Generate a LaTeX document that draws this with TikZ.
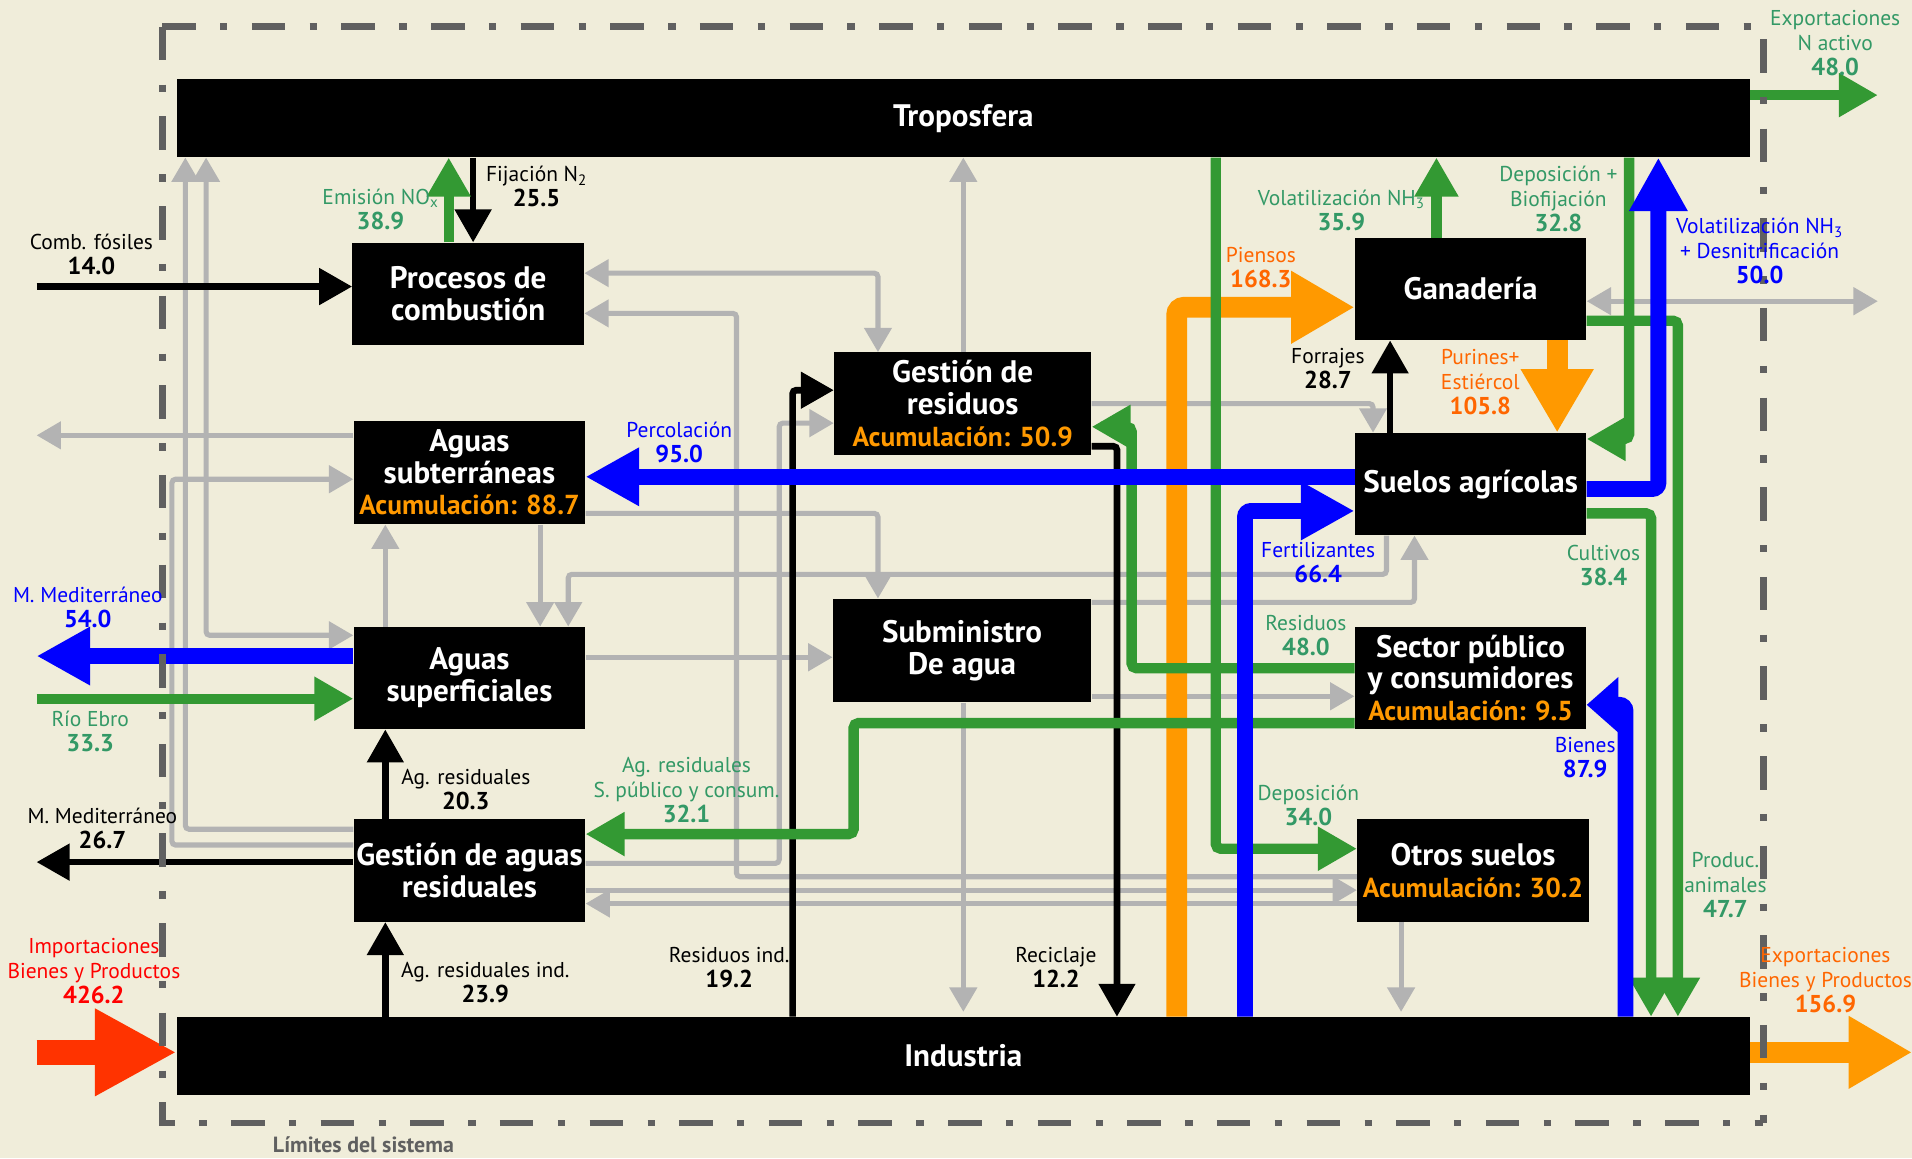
\documentclass[tikz,border=0pt]{standalone}
\usepackage{fontspec}
\setmainfont{PT Sans}
\usepackage{tikz}
\usetikzlibrary{arrows.meta}

\definecolor{cfondo}{RGB}{240,237,218}
\definecolor{cborde}{RGB}{96,96,96}
\definecolor{cgris}{RGB}{179,179,179}
\definecolor{cverde}{RGB}{51,153,51}
\definecolor{cverdet}{RGB}{51,153,102}
\definecolor{cazul}{RGB}{0,0,255}
\definecolor{cnaranja}{RGB}{255,153,0}
\definecolor{cnaranjat}{RGB}{255,102,0}
\definecolor{crojo}{RGB}{255,51,0}
\definecolor{crojot}{RGB}{255,0,0}
\newcommand{\acumul}[1]{{\fontsize{22.5}{26}\selectfont\textcolor{cnaranja}{Acumulación: #1}}}
\newcommand{\valor}[1]{{\fontsize{20}{20.5}\selectfont\bfseries #1}}

\begin{document}
\begin{tikzpicture}[x=1pt, y=-1pt,
  caja/.style={fill=black, text=white, inner sep=0pt, align=center, font=\fontsize{25.5}{26}\selectfont\bfseries},
  etq/.style={inner sep=0pt, align=center, font=\fontsize{17.6}{20.5}\selectfont},
  lgris/.style={draw=cgris, line width=4.2pt, rounded corners=3pt, -{Triangle[length=20pt,width=22pt]}},
  lgrisd/.style={lgris, {Triangle[length=20pt,width=22pt]}-{Triangle[length=20pt,width=22pt]}},
  lnegro/.style={draw=black, line width=5.5pt, rounded corners=3pt, -{Triangle[length=27pt,width=29pt]}},
  lverde/.style={draw=cverde, line width=8.5pt, rounded corners=4pt, -{Triangle[length=32pt,width=34pt]}},
  lazul/.style={draw=cazul, line width=13pt, rounded corners=5pt, -{Triangle[length=44pt,width=45pt]}},
  lnaranja/.style={draw=cnaranja, line width=17pt, rounded corners=6pt, -{Triangle[length=52pt,width=56pt]}},
  lrojo/.style={draw=crojo, line width=21pt, -{Triangle[length=67pt,width=67pt]}},
  limite/.style={draw=cborde, line width=5.5pt, dash pattern=on 27.5pt off 20pt on 6pt off 20pt}]

\fill[cfondo] (0,0) rectangle (1568,950);
\useasboundingbox (0,0) rectangle (1568,950);

\node[caja, minimum width=1290pt, minimum height=64pt] (tropo) at (790,97) {Troposfera};
\node[caja, minimum width=190pt, minimum height=84pt] (comb) at (384,241) {Procesos de\\combustión};
\node[caja, minimum width=211pt, minimum height=84pt] (resid) at (789.5,331) {Gestión de\\residuos\\\acumul{50.9}};
\node[caja, minimum width=190pt, minimum height=85pt] (subt) at (385,387.5) {Aguas\\subterráneas\\\acumul{88.7}};
\node[caja, minimum width=190pt, minimum height=84pt] (superf) at (385,556) {Aguas\\superficiales};
\node[caja, minimum width=190pt, minimum height=84pt] (gar) at (385,714) {Gestión de aguas\\residuales};
\node[caja, minimum width=212pt, minimum height=85pt] (sumin) at (789,533.5) {Subministro\\De agua};
\node[caja, minimum width=190pt, minimum height=84pt] (ganad) at (1206,237) {Ganadería};
\node[caja, minimum width=190pt, minimum height=84pt] (suelos) at (1206,397) {Suelos agrícolas};
\node[caja, minimum width=190pt, minimum height=84pt] (sector) at (1206,556) {Sector público\\y consumidores\\\acumul{9.5}};
\node[caja, minimum width=190pt, minimum height=84pt] (otros) at (1208,714) {Otros suelos\\\acumul{30.2}};
\node[caja, minimum width=1290pt, minimum height=64pt] (indus) at (790,866) {Industria};

\coordinate (ecomb) at (30,235);
\coordinate (eexpn) at (1540,78);
\coordinate (eganad) at (1540,247);
\coordinate (esubt) at (30,357);
\coordinate (emedb) at (30,538);
\coordinate (eebro) at (30,573);
\coordinate (emedk) at (30,707);
\coordinate (eimp) at (30,863);
\coordinate (eexpb) at (1568,863);

\draw[lgris] (gar.west |- 0,680) -| (152,0 |- tropo.south);
\draw[lgrisd] (superf.west |- 0,521) -| (169,0 |- tropo.south);
\draw[lgris] (gar.west |- 0,693) -| (141,393) -- (subt.west |- 0,393);
\draw[lgris] (subt.west |- esubt) -- (esubt);
\draw[lgris] (316,0 |- superf.north) -- (316,0 |- subt.south);
\draw[lgris] (443,0 |- subt.south) -- (443,0 |- superf.north);
\draw[lgris] (1137,0 |- suelos.south) |- (466,471) -- (466,0 |- superf.north);
\draw[lgrisd] (comb.east |- 0,224) -| (720,0 |- resid.north);
\draw[lgris] (otros.west |- 0,719) -| (604,257) -- (comb.east |- 0,257);
\draw[lgris] (gar.east |- 0,708) -| (639,347) -- (resid.west |- 0,347);
\draw[lgris] (790,0 |- resid.north) -- (790,0 |- tropo.south);
\draw[lgris] (resid.east |- 0,331) -| (1126,0 |- suelos.north);
\draw[lgris] (subt.east |- 0,421) -| (720,0 |- sumin.north);
\draw[lgris] (sumin.east |- 0,494) -| (1160,0 |- suelos.south);
\draw[lgris] (superf.east |- 0,539) -- (sumin.west |- 0,539);
\draw[lgris] (sumin.east |- 0,571) -- (sector.west |- 0,571);
\draw[lgris, shorten >=4pt] (790,0 |- sumin.south) -- (790,0 |- indus.north);
\draw[lgris, shorten >=4pt] (1149,0 |- otros.south) -- (1149,0 |- indus.north);
\draw[lgris] (gar.east |- 0,730) -- (otros.west |- 0,730);
\draw[lgris] (otros.west |- 0,741) -- (gar.east |- 0,741);
\draw[lgrisd] (ganad.east |- eganad) -- (eganad);

\draw[lnaranja] (965,0 |- indus.north) |- (ganad.west |- 0,252);
\draw[lnaranja] (1277,0 |- ganad.south) -- (1277,0 |- suelos.north);
\draw[lnaranja] (indus.east |- eexpb) -- (eexpb);
\draw[lrojo] (eimp) -- (indus.west |- eimp);

\draw[lnegro] (ecomb) -- (comb.west |- ecomb);
\draw[lnegro] (388,0 |- tropo.south) -- (388,0 |- comb.north);
\draw[lnegro] (1140,0 |- suelos.north) -- (1140,0 |- ganad.south);
\draw[lnegro] (316,0 |- gar.north) -- (316,0 |- superf.south);
\draw[lnegro] (316,0 |- indus.north) -- (316,0 |- gar.south);
\draw[lnegro] (gar.west |- emedk) -- (emedk);
\draw[lnegro] (650,0 |- indus.north) |- (resid.west |- 0,320);
\draw[lnegro] (resid.east |- 0,366) -| (916,0 |- indus.north);

\draw[lverde] (368,0 |- comb.north) -- (368,0 |- tropo.south);
\draw[lverde] (1178,0 |- ganad.north) -- (1178,0 |- tropo.south);
\draw[lverde] (1336,0 |- tropo.south) |- (suelos.east |- 0,360);
\draw[lverde] (ganad.east |- 0,263) -| (1376,0 |- indus.north);
\draw[lverde] (suelos.east |- 0,421) -| (1354,0 |- indus.north);
\draw[lverde] (sector.west |- 0,548) -| (928,350) -- (resid.east |- 0,350);
\draw[lverde] (sector.west |- 0,593) -| (700,684) -- (gar.east |- 0,684);
\draw[lverde] (997,0 |- tropo.south) |- (otros.west |- 0,696);
\draw[lverde] (eebro) -- (superf.west |- eebro);
\draw[lverde] (tropo.east |- eexpn) -- (eexpn);

\draw[lazul] (1021,0 |- indus.north) |- (suelos.west |- 0,419);
\draw[lazul] (suelos.east |- 0,401) -| (1360,0 |- tropo.south);
\draw[lazul, -{Triangle[length=26pt,width=44pt]}] (1333,0 |- indus.north) |- (sector.east |- 0,578);
\draw[lazul] (superf.west |- emedb) -- (emedb);
\draw[lazul] (suelos.west |- 0,391) -- (subt.east |- 0,391);

\draw[limite] (133,22) -- (133,921) -- (1446,921);
\draw[limite] (133,22) -- (1446,22) -- (1446,921);

\node[etq] (lcomb) at (75,209) {Comb. fósiles\\\valor{14.0}};
\node[etq, text=cverdet] (lnox) at (312,172) {Emisión NO\textsubscript{x}\\\valor{38.9}};
\node[etq] (lfij) at (440,153) {Fijación N\textsubscript{2}\\\valor{25.5}};
\node[etq, text=cverdet] (lvolg) at (1100,172.5) {Volatilización NH\textsubscript{3}\\\valor{35.9}};
\node[etq, text=cverdet] (ldep) at (1278,163.5) {Deposición +\\Biofijación\\\valor{32.8}};
\node[etq, text=cverdet] (lexpn) at (1505,35) {Exportaciones\\N activo\\\valor{48.0}};
\node[etq, text=cnaranjat] (lpien) at (1034,219.5) {Piensos\\\valor{168.3}};
\node[etq, text=cazul] (lvolb) at (1443,206) {Volatilización NH\textsubscript{3}\\+ Desnitrificación\\\valor{50.0}};
\node[etq] (lforr) at (1089,302.5) {Forrajes\\\valor{28.7}};
\node[etq, text=cnaranjat] (lpur) at (1214,313) {Purines+\\Estiércol\\\valor{105.8}};
\node[etq, text=cazul] (lperc) at (557,362.5) {Percolación\\\valor{95.0}};
\node[etq, text=cazul] (lfert) at (1081,461) {Fertilizantes\\\valor{66.4}};
\node[etq, text=cverdet] (lcult) at (1315,463.5) {Cultivos\\\valor{38.4}};
\node[etq, text=cazul] (lmedb) at (72,498.5) {M. Mediterráneo\\\valor{54.0}};
\node[etq, text=cverdet] (lres) at (1071,521.5) {Residuos\\\valor{48.0}};
\node[etq, text=cverdet] (lebro) at (74,599.5) {Río Ebro\\\valor{33.3}};
\node[etq, text=cazul] (lbien) at (1300,621.5) {Bienes\\\valor{87.9}};
\node[etq, text=cverdet] (lagsp) at (563,647.5) {Ag. residuales\\S. público y consum.\\\valor{32.1}};
\node[etq] (lag) at (382,647.5) {Ag. residuales\\\valor{20.3}};
\node[etq, text=cverdet] (ldepo) at (1073,660.5) {Deposición\\\valor{34.0}};
\node[etq] (lmedk) at (84,679) {M. Mediterráneo\\\valor{26.7}};
\node[etq, text=cverdet] (lprod) at (1415,725.5) {Produc.\\animales\\\valor{47.7}};
\node[etq, text=crojot] (limp) at (77,796.5) {Importaciones\\Bienes y Productos\\\valor{426.2}};
\node[etq] (lresi) at (598,793.5) {Residuos ind.\\\valor{19.2}};
\node[etq] (lrec) at (866,793.5) {Reciclaje\\\valor{12.2}};
\node[etq] (lagi) at (398,806) {Ag. residuales ind.\\\valor{23.9}};
\node[etq, text=cnaranjat] (lexpb) at (1497,803.5) {Exportaciones\\Bienes y Productos\\\valor{156.9}};
\node[etq, text=cborde, font=\fontsize{18}{20.5}\selectfont\bfseries] (llim) at (298,939) {Límites del sistema};
\end{tikzpicture}
\end{document}
